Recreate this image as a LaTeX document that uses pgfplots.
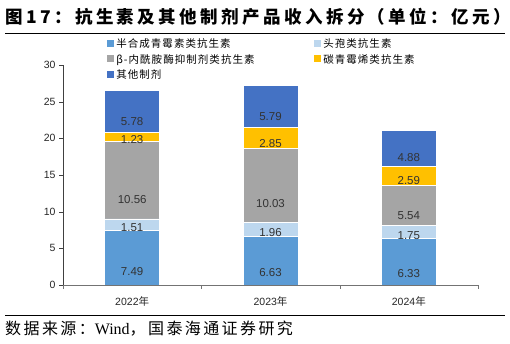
\documentclass[border=0pt]{standalone}
\usepackage{pgfplots}
\pgfplotsset{compat=1.18}
\usepackage{fontspec}
\setmainfont{Liberation Sans}
\newfontfamily\cjk{Noto Sans CJK SC}
\newfontfamily\cjkl[LetterSpace=10]{Noto Sans CJK SC}
\newfontfamily\cjkt[LetterSpace=19.5]{Noto Sans CJK SC}
\newfontfamily\cjks[LetterSpace=15]{Noto Sans CJK SC}
\newfontfamily\serif{Liberation Serif}
\definecolor{cA}{HTML}{5B9BD5}
\definecolor{cB}{HTML}{BDD7EE}
\definecolor{cC}{HTML}{A5A5A5}
\definecolor{cD}{HTML}{FFC000}
\definecolor{cE}{HTML}{4472C4}
\definecolor{lab}{HTML}{333333}
\begin{document}
\begin{tikzpicture}[x=1pt,y=1pt]
\useasboundingbox (0,0) rectangle (510,344);
\node[anchor=west,inner sep=0] at (5,327) {\cjkt\bfseries\fontsize{17.5}{18}\selectfont 图17：抗生素及其他制剂产品收入拆分（单位：亿元）};
\draw[line width=0.8pt] (5,311) -- (505,311);
\draw[line width=0.8pt] (5,29) -- (505,29);
\node[anchor=west,inner sep=0] at (5,15) {\fontsize{16}{17}\selectfont\cjks 数据来源：{\serif Wind}，国泰海通证券研究};
\begin{axis}[
  at={(63pt,59pt)}, anchor=south west,
  scale only axis, width=415pt, height=220pt,
  xmin=-0.5, xmax=2.5, ymin=0, ymax=30,
  ybar stacked, bar width=55pt,
  axis x line*=bottom, axis y line*=left,
  axis line style={-},
  x axis line style={draw=black!55},
  y axis line style={draw=black!75},
  tick align=outside, major tick length=4pt,
  xtick={-0.5,0.5,1.5,2.5}, xticklabels={},
  x tick style={draw=black!55},
  y tick style={draw=black!75},
  extra x ticks={0,1,2},
  extra x tick labels={2022{\cjk 年},2023{\cjk 年},2024{\cjk 年}},
  extra x tick style={major tick length=0pt},
  ytick={0,5,...,30},
  /pgf/number format/assume math mode=true,
  tick label style={font=\fontsize{10.5}{12}\selectfont, text=black!85},
  xticklabel style={yshift=-8pt},
  nodes near coords,
  visualization depends on={rawy \as \rawy},
  every node near coord/.append style={anchor=center, yshift=-\rawy*1.8333pt,
     font=\fontsize{11.5}{12}\selectfont, text=lab},
  legend columns=2,
  legend cell align=left,
  legend style={at={(0.099,1.139)}, anchor=north west, draw=none, fill=none,
     font=\fontsize{10.5}{12}\selectfont\cjkl, row sep=1.2pt},
  legend image code/.code={\fill[#1,draw=none] (0pt,-3pt) rectangle (7pt,4pt);},
]
\addplot[fill=cA, draw=white, line width=0.6pt] coordinates {(0,7.49) (1,6.63) (2,6.33)};
\addlegendentry{\makebox[196pt][l]{半合成青霉素类抗生素}}
\addplot[fill=cB, draw=white, line width=0.6pt] coordinates {(0,1.51) (1,1.96) (2,1.75)};
\addlegendentry{头孢类抗生素}
\addplot[fill=cC, draw=white, line width=0.6pt] coordinates {(0,10.56) (1,10.03) (2,5.54)};
\addlegendentry{\makebox[196pt][l]{β-内酰胺酶抑制剂类抗生素}}
\addplot[fill=cD, draw=white, line width=0.6pt] coordinates {(0,1.23) (1,2.85) (2,2.59)};
\addlegendentry{碳青霉烯类抗生素}
\addplot[fill=cE, draw=white, line width=0.6pt] coordinates {(0,5.78) (1,5.79) (2,4.88)};
\addlegendentry{其他制剂}
\end{axis}
\end{tikzpicture}
\end{document}
